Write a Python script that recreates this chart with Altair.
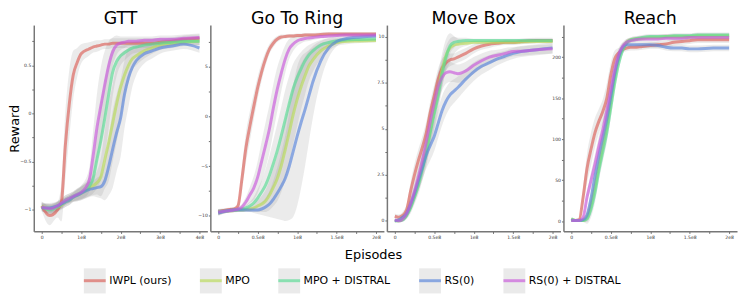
import altair as alt
import pandas as pd

SERIES = ["IWPL (ours)", "MPO", "MPO + DISTRAL", "RS(0)", "RS(0) + DISTRAL"]
COLORS = ["#db5f57", "#b9db57", "#57db94", "#5784db", "#c957db"]
BAND_GRAY = "#888888"

# ---------------- GTT (x in units of 1e8) ----------------
gtt_x = [0, 0.2, 0.4, 0.5, 0.6, 0.7, 0.8, 0.9, 1.0, 1.2, 1.3, 1.4, 1.5, 1.6,
         1.7, 1.8, 1.9, 2.0, 2.1, 2.2, 2.3, 2.4, 2.6, 2.8, 3.0, 3.3, 3.6, 4.0]
gtt_iwpl = [-0.96, -1.06, -1.0, -0.92, -0.33, 0.1, 0.4, 0.53, 0.62, 0.67, 0.69, 0.70, 0.71, 0.72,
            0.72, 0.73, 0.73, 0.73, 0.73, 0.73, 0.73, 0.73, 0.73, 0.73, 0.74, 0.75, 0.77, 0.78]
gtt_mpo = [-0.96, -0.99, -0.97, -0.95, -0.92, -0.9, -0.87, -0.85, -0.83, -0.78, -0.75, -0.72, -0.66, -0.48,
           -0.3, -0.1, 0.1, 0.27, 0.4, 0.5, 0.57, 0.6, 0.65, 0.68, 0.71, 0.73, 0.74, 0.75]
gtt_mpod = [-0.97, -1.0, -0.97, -0.94, -0.9, -0.88, -0.86, -0.84, -0.82, -0.76, -0.68, -0.48, -0.28, -0.05,
            0.2, 0.43, 0.54, 0.6, 0.63, 0.66, 0.68, 0.69, 0.71, 0.72, 0.73, 0.74, 0.75, 0.75]
gtt_rs = [-0.98, -0.98, -0.96, -0.94, -0.92, -0.9, -0.87, -0.85, -0.83, -0.79, -0.78, -0.77, -0.76, -0.7,
          -0.55, -0.37, -0.2, -0.05, 0.2, 0.37, 0.48, 0.55, 0.62, 0.65, 0.68, 0.70, 0.72, 0.68]
gtt_rsd = [-0.97, -0.99, -0.96, -0.93, -0.9, -0.88, -0.86, -0.84, -0.82, -0.7, -0.45, -0.15, 0.08, 0.3,
           0.5, 0.64, 0.71, 0.73, 0.74, 0.75, 0.75, 0.75, 0.76, 0.76, 0.77, 0.77, 0.78, 0.79]
gtt_iwpl_sd = [0.05, 0.1, 0.08, 0.2, 0.35, 0.35, 0.25, 0.15, 0.1, 0.07, 0.06, 0.06, 0.05, 0.05,
               0.05, 0.05, 0.05, 0.05, 0.05, 0.05, 0.05, 0.05, 0.05, 0.05, 0.04, 0.04, 0.04, 0.04]
gtt_mpo_sd = [0.04, 0.05, 0.05, 0.05, 0.05, 0.05, 0.05, 0.06, 0.07, 0.08, 0.1, 0.12, 0.2, 0.3,
              0.4, 0.4, 0.4, 0.35, 0.25, 0.18, 0.12, 0.1, 0.08, 0.06, 0.05, 0.05, 0.04, 0.04]
gtt_mpod_sd = [0.04, 0.05, 0.05, 0.05, 0.05, 0.05, 0.05, 0.06, 0.07, 0.1, 0.15, 0.3, 0.4, 0.4,
               0.35, 0.25, 0.15, 0.1, 0.08, 0.07, 0.06, 0.06, 0.05, 0.05, 0.05, 0.04, 0.04, 0.04]
gtt_rs_sd = [0.04, 0.05, 0.05, 0.05, 0.05, 0.05, 0.05, 0.06, 0.07, 0.08, 0.08, 0.1, 0.12, 0.2,
             0.3, 0.4, 0.4, 0.4, 0.35, 0.3, 0.2, 0.15, 0.1, 0.08, 0.06, 0.05, 0.05, 0.05]
gtt_rsd_sd = [0.04, 0.05, 0.05, 0.05, 0.05, 0.05, 0.05, 0.06, 0.07, 0.12, 0.25, 0.35, 0.4, 0.35,
              0.25, 0.15, 0.1, 0.07, 0.06, 0.05, 0.05, 0.05, 0.04, 0.04, 0.04, 0.04, 0.04, 0.04]

# ---------------- Go To Ring ----------------
ring_x = [0, 0.1, 0.2, 0.25, 0.3, 0.35, 0.4, 0.45, 0.5, 0.55, 0.6, 0.65, 0.7, 0.75, 0.8,
          0.85, 0.9, 0.95, 1.0, 1.05, 1.1, 1.15, 1.2, 1.3, 1.4, 1.5, 1.6, 1.8, 2.0]
ring_iwpl = [-9.6, -9.4, -9.3, -9.0, -6.3, -3.2, -1.0, 1.0, 2.9, 4.5, 5.8, 6.8, 7.4, 7.8, 8.0,
             8.05, 8.1, 8.1, 8.15, 8.15, 8.2, 8.2, 8.2, 8.25, 8.3, 8.3, 8.3, 8.3, 8.3]
ring_mpo = [-9.6, -9.5, -9.45, -9.4, -9.4, -9.35, -9.3, -9.2, -9.0, -8.8, -8.5, -7.9, -7.1, -6.2, -4.9,
            -3.3, -1.6, 0.2, 1.7, 3.0, 4.1, 5.1, 5.7, 6.6, 7.1, 7.45, 7.55, 7.6, 7.65]
ring_mpod = [-9.6, -9.5, -9.4, -9.35, -9.3, -9.2, -9.0, -8.7, -8.2, -7.6, -6.9, -5.9, -4.7, -3.4, -1.9,
             -0.3, 1.3, 2.8, 3.9, 4.8, 5.6, 6.2, 6.6, 7.2, 7.45, 7.6, 7.7, 7.75, 7.8]
ring_rs = [-9.7, -9.5, -9.4, -9.4, -9.4, -9.4, -9.4, -9.4, -9.4, -9.3, -9.1, -8.8, -8.3, -7.7, -7.0,
           -6.2, -5.0, -3.5, -2.0, -0.6, 0.7, 2.1, 3.5, 5.6, 6.9, 7.55, 7.8, 8.0, 8.1]
ring_rsd = [-9.6, -9.5, -9.4, -9.3, -9.1, -8.6, -7.9, -7.2, -6.1, -4.5, -2.9, -1.2, 0.9, 2.8, 4.4,
            5.8, 6.8, 7.3, 7.6, 7.75, 7.85, 7.9, 7.95, 8.05, 8.1, 8.15, 8.2, 8.2, 8.2]
ring_iwpl_sd = [0.3, 0.2, 0.2, 0.4, 1.2, 1.5, 1.5, 1.3, 1.1, 0.9, 0.7, 0.5, 0.4, 0.3, 0.25,
                0.2, 0.2, 0.2, 0.2, 0.2, 0.2, 0.2, 0.2, 0.2, 0.2, 0.2, 0.2, 0.2, 0.2]
ring_mpo_sd = [0.3, 0.2, 0.2, 0.2, 0.2, 0.2, 0.3, 0.4, 0.6, 0.8, 1.1, 1.5, 1.9, 2.3, 2.7,
               3.0, 3.1, 3.0, 2.7, 2.3, 1.9, 1.5, 1.2, 0.8, 0.5, 0.35, 0.3, 0.2, 0.2]
ring_mpod_sd = [0.3, 0.2, 0.2, 0.2, 0.2, 0.3, 0.4, 0.6, 0.9, 1.2, 1.6, 2.0, 2.4, 2.7, 2.9,
                3.0, 2.8, 2.5, 2.1, 1.7, 1.3, 1.0, 0.8, 0.5, 0.4, 0.3, 0.25, 0.2, 0.2]
ring_rs_sd = [0.3, 0.2, 0.2, 0.2, 0.2, 0.2, 0.2, 0.3, 0.4, 0.6, 0.9, 1.3, 1.9, 2.6, 3.4,
              4.3, 5.4, 6.6, 7.0, 6.6, 5.7, 4.6, 3.6, 2.0, 1.0, 0.5, 0.3, 0.2, 0.2]
ring_rsd_sd = [0.3, 0.2, 0.2, 0.2, 0.3, 0.5, 0.8, 1.2, 1.6, 2.0, 2.3, 2.4, 2.4, 2.2, 1.8,
               1.4, 1.0, 0.7, 0.5, 0.4, 0.3, 0.3, 0.25, 0.2, 0.2, 0.2, 0.2, 0.2, 0.2]

# ---------------- Move Box ----------------
box_x = [0, 0.05, 0.1, 0.15, 0.2, 0.25, 0.3, 0.35, 0.4, 0.45, 0.5, 0.55, 0.6, 0.65,
         0.7, 0.75, 0.8, 0.9, 1.0, 1.1, 1.2, 1.3, 1.4, 1.5, 1.6, 1.8, 2.0]
box_iwpl = [0.25, 0.2, 0.3, 0.6, 1.6, 2.5, 3.3, 4.0, 4.8, 5.9, 6.8, 7.7, 8.3, 8.6,
            8.75, 8.8, 8.9, 9.1, 9.35, 9.5, 9.6, 9.65, 9.7, 9.7, 9.75, 9.8, 9.8]
box_mpo = [0.0, 0.0, 0.1, 0.35, 0.8, 1.4, 2.1, 2.9, 3.8, 4.9, 6.0, 7.1, 8.2, 9.0,
           9.4, 9.55, 9.6, 9.65, 9.7, 9.7, 9.7, 9.7, 9.7, 9.7, 9.72, 9.75, 9.75]
box_mpod = [0.0, 0.0, 0.05, 0.3, 0.7, 1.3, 1.95, 2.8, 3.7, 4.8, 5.8, 6.8, 8.0, 8.9,
            9.5, 9.7, 9.75, 9.8, 9.8, 9.8, 9.8, 9.8, 9.8, 9.8, 9.8, 9.8, 9.8]
box_rs = [0.0, 0.05, 0.2, 0.4, 0.9, 1.5, 2.2, 2.9, 3.6, 4.1, 4.6, 5.3, 6.0, 6.5,
          6.85, 7.05, 7.25, 7.7, 8.1, 8.4, 8.6, 8.8, 8.95, 9.1, 9.2, 9.3, 9.4]
box_rsd = [0.05, 0.0, 0.1, 0.4, 0.9, 1.6, 2.4, 3.3, 4.3, 5.4, 6.4, 7.3, 7.8, 8.05,
           8.1, 8.05, 8.0, 8.15, 8.45, 8.7, 8.9, 9.0, 9.1, 9.2, 9.22, 9.3, 9.35]
box_iwpl_sd = [0.15, 0.15, 0.2, 0.3, 0.5, 0.6, 0.6, 0.6, 0.6, 0.6, 0.6, 0.6, 0.5, 0.4,
               0.35, 0.3, 0.3, 0.3, 0.25, 0.2, 0.2, 0.15, 0.15, 0.15, 0.15, 0.15, 0.15]
box_mpo_sd = [0.05, 0.05, 0.1, 0.2, 0.3, 0.4, 0.5, 0.6, 0.7, 0.8, 0.9, 0.9, 0.9, 0.9,
              0.8, 0.5, 0.3, 0.15, 0.1, 0.1, 0.1, 0.1, 0.1, 0.1, 0.1, 0.1, 0.1]
box_mpod_sd = [0.05, 0.05, 0.1, 0.2, 0.3, 0.4, 0.5, 0.6, 0.7, 0.8, 0.9, 0.9, 0.8, 0.6,
               0.4, 0.3, 0.2, 0.15, 0.1, 0.1, 0.1, 0.1, 0.1, 0.1, 0.1, 0.1, 0.1]
box_rs_sd = [0.05, 0.1, 0.15, 0.25, 0.35, 0.45, 0.55, 0.65, 0.75, 0.8, 0.8, 0.8, 0.8, 0.75,
             0.7, 0.65, 0.6, 0.55, 0.5, 0.45, 0.4, 0.35, 0.3, 0.3, 0.3, 0.3, 0.3]
box_rsd_sd = [0.05, 0.1, 0.15, 0.25, 0.35, 0.45, 0.55, 0.65, 0.75, 0.8, 0.8, 0.8, 0.7, 0.6,
              0.55, 0.5, 0.5, 0.5, 0.45, 0.4, 0.35, 0.3, 0.3, 0.25, 0.25, 0.25, 0.25]

# ---------------- Reach ----------------
reach_x = [0, 0.05, 0.1, 0.15, 0.2, 0.25, 0.3, 0.35, 0.4, 0.45, 0.5, 0.55, 0.6, 0.65,
           0.7, 0.75, 0.8, 0.9, 1.0, 1.1, 1.2, 1.3, 1.4, 1.5, 1.6, 1.8, 2.0]
reach_iwpl = [2, 1, 2, 30, 65, 88, 108, 122, 134, 150, 178, 198, 205, 209,
              211, 212, 212, 213, 214, 215, 216, 218, 219, 220, 221, 221, 221]
reach_mpo = [2, 1, 1, 1, 5, 20, 42, 68, 92, 115, 145, 175, 198, 211,
             218, 221, 222, 223, 224, 224, 225, 225, 225, 225, 226, 226, 226]
reach_mpod = [3, 1, 1, 1, 3, 15, 35, 62, 85, 108, 138, 168, 192, 208,
              217, 221, 222, 224, 225, 225, 225, 226, 226, 226, 227, 227, 227]
reach_rs = [1, 1, 1, 2, 8, 28, 55, 80, 102, 125, 152, 180, 200, 212,
            215, 215, 215, 215, 215, 214, 212, 211, 211, 210, 210, 211, 211]
reach_rsd = [1, 1, 1, 5, 30, 50, 70, 92, 112, 135, 160, 185, 203, 213,
             218, 220, 221, 222, 222, 222, 223, 223, 223, 224, 224, 224, 224]
reach_iwpl_sd = [3, 2, 2, 12, 18, 20, 18, 15, 15, 18, 15, 10, 6, 4,
                 4, 4, 4, 4, 4, 4, 4, 4, 4, 4, 4, 4, 4]
reach_mpo_sd = [2, 1, 1, 2, 6, 10, 12, 12, 12, 12, 12, 10, 8, 5,
                4, 3, 3, 3, 3, 3, 3, 3, 3, 3, 3, 3, 3]
reach_mpod_sd = [2, 1, 1, 2, 6, 10, 12, 12, 12, 12, 12, 10, 8, 5,
                 4, 3, 3, 3, 3, 3, 3, 3, 3, 3, 3, 3, 3]
reach_rs_sd = [2, 1, 1, 2, 6, 10, 12, 12, 12, 12, 12, 10, 8, 5,
               4, 4, 4, 4, 4, 4, 4, 4, 4, 4, 4, 4, 4]
reach_rsd_sd = [2, 1, 1, 2, 6, 10, 12, 12, 12, 12, 12, 10, 8, 5,
                4, 3, 3, 3, 3, 3, 3, 3, 3, 3, 3, 3, 3]

PANELS = {
    "GTT": (gtt_x, [(gtt_iwpl, gtt_iwpl_sd), (gtt_mpo, gtt_mpo_sd), (gtt_mpod, gtt_mpod_sd),
                    (gtt_rs, gtt_rs_sd), (gtt_rsd, gtt_rsd_sd)]),
    "Go To Ring": (ring_x, [(ring_iwpl, ring_iwpl_sd), (ring_mpo, ring_mpo_sd), (ring_mpod, ring_mpod_sd),
                            (ring_rs, ring_rs_sd), (ring_rsd, ring_rsd_sd)]),
    "Move Box": (box_x, [(box_iwpl, box_iwpl_sd), (box_mpo, box_mpo_sd), (box_mpod, box_mpod_sd),
                         (box_rs, box_rs_sd), (box_rsd, box_rsd_sd)]),
    "Reach": (reach_x, [(reach_iwpl, reach_iwpl_sd), (reach_mpo, reach_mpo_sd), (reach_mpod, reach_mpod_sd),
                        (reach_rs, reach_rs_sd), (reach_rsd, reach_rsd_sd)]),
}

rows = []
for task, (xs, series_list) in PANELS.items():
    for name, (ys, sds) in zip(SERIES, series_list):
        for xv, yv, sv in zip(xs, ys, sds):
            rows.append({"task": task, "series": name, "x": xv, "y": yv, "lo": yv - sv, "hi": yv + sv})
df = pd.DataFrame(rows)

AX = {
    "GTT": ([-0.2, 4.2], [0, 0.5, 1, 1.5, 2, 2.5, 3, 3.5, 4], 1,
            [-1.224, 0.918], [-1, -0.75, -0.5, -0.25, 0, 0.25, 0.5, 0.75], 0.5),
    "Go To Ring": ([-0.1, 2.1], [0, 0.25, 0.5, 0.75, 1, 1.25, 1.5, 1.75, 2], 0.5,
                   [-11.55, 9.2], [-10, -7.5, -5, -2.5, 0, 2.5, 5, 7.5], 5),
    "Move Box": ([-0.1, 2.1], [0, 0.25, 0.5, 0.75, 1, 1.25, 1.5, 1.75, 2], 0.5,
                 [-0.57, 10.64], [0, 1.25, 2.5, 3.75, 5, 6.25, 7.5, 8.75, 10], 2.5),
    "Reach": ([-0.1, 2.1], [0, 0.25, 0.5, 0.75, 1, 1.25, 1.5, 1.75, 2], 0.5,
              [-12.3, 239], [0, 25, 50, 75, 100, 125, 150, 175, 200, 225], 50),
}

W, H = 175, 208

LEG_COMMON = dict(orient="none", legendX=49, legendY=245, direction="horizontal",
                  symbolSize=484, symbolStrokeWidth=3, labelFontSize=11, labelFont="DejaVu Sans",
                  labelColor="black", labelOffset=2, columnPadding=22, padding=0)
color_legend = alt.Legend(title=None, symbolType="stroke", symbolOpacity=0.65, zindex=1, **LEG_COMMON)
fill_legend = alt.Legend(title=None, symbolType="M-1,-1.15H1V1.15H-1Z", symbolOpacity=0.17,
                         symbolStrokeColor="transparent", labelOpacity=0, zindex=0, **LEG_COMMON)


def make_panel(idx, task):
    xdom, xvals, xmaj, ydom, yvals, ymaj = AX[task]
    data = df[df.task == task]
    xlab = f"(datum.value/{xmaj}) % 1 != 0 ? '' : (datum.value == 0 ? '0' : datum.value + 'e8')"
    ylab = f"abs(datum.value/{ymaj} - round(datum.value/{ymaj})) > 0.000001 ? '' : format(datum.value, '~g')"
    if idx == 1:
        xaxis = alt.Axis(values=xvals, labelExpr=xlab, title="Episodes", titleX=164, titleY=27,
                         titleBaseline="alphabetic", titleAlign="center", titleFontSize=13)
    else:
        xaxis = alt.Axis(values=xvals, labelExpr=xlab, title=None)
    if idx == 0:
        yaxis = alt.Axis(values=yvals, labelExpr=ylab, title="Reward",
                         titleFontSize=13, titlePadding=-2)
    else:
        yaxis = alt.Axis(values=yvals, labelExpr=ylab, title=None)
    xs = alt.Scale(domain=xdom, nice=False, zero=False)
    ys = alt.Scale(domain=ydom, nice=False, zero=False)
    base = alt.Chart(data)
    band = base.mark_area(opacity=0.17, interpolate="monotone", clip=True).encode(
        x=alt.X("x:Q", scale=xs, axis=xaxis),
        y=alt.Y("lo:Q", scale=ys, axis=yaxis),
        y2="hi:Q",
        fill=alt.Fill("series:N", scale=alt.Scale(range=[BAND_GRAY] * 5), legend=fill_legend),
    )
    line = base.mark_line(strokeWidth=3, opacity=0.65, interpolate="monotone", clip=True).encode(
        x=alt.X("x:Q", scale=xs, axis=xaxis),
        y=alt.Y("y:Q", scale=ys, axis=yaxis),
        color=alt.Color("series:N", scale=alt.Scale(domain=SERIES, range=COLORS), legend=color_legend),
    )
    return alt.layer(band, line).properties(
        width=W, height=H,
        title=alt.Title(task, fontSize=17.5, font="DejaVu Sans", fontWeight="normal", offset=-2, color="black"),
    )


panels = [make_panel(i, t) for i, t in enumerate(PANELS.keys())]

chart = alt.hconcat(*panels, spacing=3, bounds="flush").properties(
    background="white",
    padding={"left": 0, "top": 0, "right": 2, "bottom": 0},
).configure_view(strokeWidth=0).configure_axis(
    grid=False, domainColor="#777777", domainWidth=1.5, tickColor="#444444", tickSize=2,
    tickWidth=0.8, labelFontSize=4.6, labelFont="DejaVu Sans", labelColor="#333333",
    labelPadding=1, titleFont="DejaVu Sans", titleFontWeight="normal", titleColor="black",
)

chart.save("out.html", embed_options={"renderer": "svg", "actions": False})
